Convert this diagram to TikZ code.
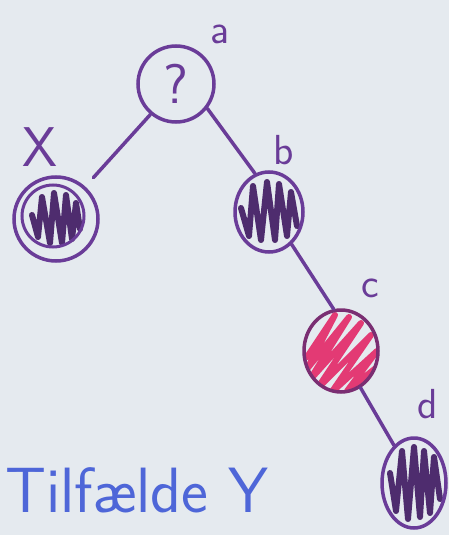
\documentclass[tikz,border=0pt]{standalone}
\usepackage{fontspec}
\usetikzlibrary{shapes.geometric}
\definecolor{paper}{HTML}{E5EAEF}
\definecolor{ink}{HTML}{6A3C98}
\definecolor{dark}{HTML}{4E2C6E}
\definecolor{pinkink}{HTML}{E33A74}
\definecolor{redring}{HTML}{7A2E72}
\definecolor{blueink}{HTML}{4E66D8}
\begin{document}
\begin{tikzpicture}[x=1pt,y=-1pt,
  ring/.style={draw=ink,line width=3.5pt,inner sep=0pt},
  lbl/.style={text=ink,font=\sffamily\fontsize{42}{42}\selectfont,inner sep=0pt},
  link/.style={draw=ink,line width=3.5pt,line cap=round},
  hatchline/.style={dark,line width=6pt,line join=round,line cap=round},
  zig/.style={path picture={
    \begin{scope}[shift={(path picture bounding box.center)}]
      \draw[hatchline]
        (-28,-4) -- (-20,24) -- (-16,-26) -- (-8,28) -- (-2,-30) -- (6,28)
        -- (10,-28) -- (18,24) -- (22,-20) -- (28,14);
    \end{scope}}},
  xzig/.style={path picture={
    \begin{scope}[shift={(path picture bounding box.center)}]
      \draw[hatchline]
        (-24,-4) -- (-18,18) -- (-14,-22) -- (-6,24) -- (-2,-26) -- (6,24)
        -- (10,-24) -- (16,20) -- (20,-16) -- (24,10);
      \draw[ink,line width=3pt] (-3,-3) circle[radius=31];
    \end{scope}}},
  zigtall/.style={path picture={
    \begin{scope}[shift={(path picture bounding box.center)}]
      \draw[hatchline]
        (-24,-10) -- (-18,28) -- (-12,-32) -- (-6,36) -- (0,-36) -- (6,34)
        -- (10,-32) -- (16,30) -- (20,-26) -- (26,16);
    \end{scope}}},
  pinkhatch/.style={path picture={
    \begin{scope}[shift={(path picture bounding box.center)}]
      \draw[pinkink,line width=6pt,line join=round,line cap=round]
        (-34,6) -- (-6,-36) -- (-34,18) -- (8,-34) -- (-32,30) -- (20,-28)
        -- (-24,38) -- (30,-16) -- (-10,42) -- (36,0) -- (6,40) -- (36,16);
    \end{scope}}}
]
\useasboundingbox (0,0) rectangle (449,535);
\fill[paper] (0,0) rectangle (449,535);

% nodes
\node[circle,ring,minimum size=76pt,text=ink,font=\sffamily\fontsize{56}{56}\selectfont] (a) at (176,84) {?};
\node[circle,ring,minimum size=84pt,xzig] (x) at (56,219) {};
\node[ellipse,ring,minimum width=68pt,minimum height=80pt,zig] (b) at (269,212) {};
\node[ellipse,draw=redring,line width=3.5pt,inner sep=0pt,minimum width=74pt,minimum height=82pt,pinkhatch] (c) at (341,351) {};
\node[ellipse,ring,minimum width=64pt,minimum height=90pt,zigtall] (d) at (414,483) {};

% labels
\node[lbl] (la) at (220,34) {a};
\node[lbl,font=\sffamily\fontsize{56}{56}\selectfont] (lx) at (40,147) {X};
\node[lbl] (lb) at (284,150) {b};
\node[lbl] (lc) at (370,288) {c};
\node[lbl] (ld) at (428,404) {d};

% connectors
\draw[link,shorten >=12pt] (a.-130) -- (x);
\draw[link] (a.-38) -- (b.110);
\draw[link] (b.-55) -- (c.100);
\draw[link] (c.-62) -- (d.118);

% caption
\node[text=blueink,font=\sffamily\fontsize{64}{64}\selectfont,anchor=base west,inner sep=0pt] (t) at (5,512) {Tilfælde Y};
\end{tikzpicture}
\end{document}
